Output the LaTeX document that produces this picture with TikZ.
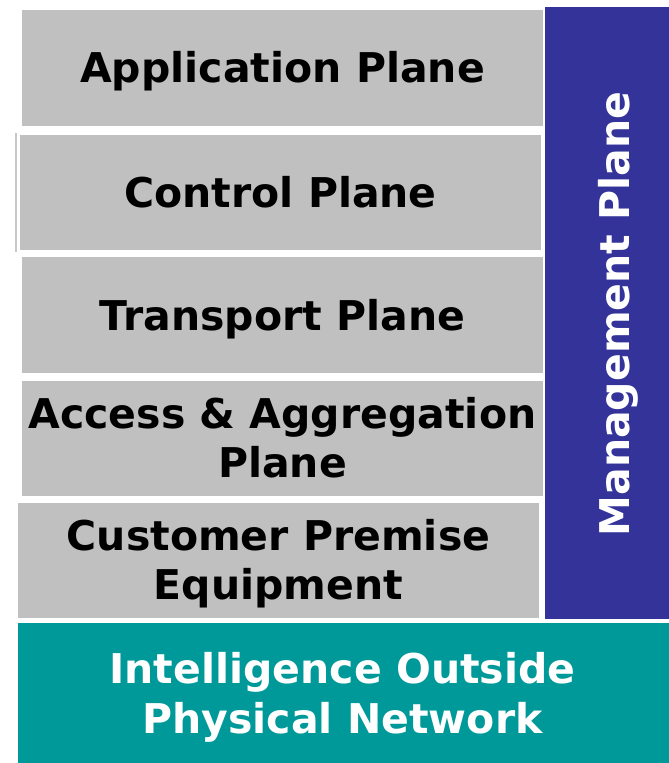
\documentclass[tikz,border=0pt]{standalone}
\usepackage{fontspec}
\setmainfont{DejaVu Sans}
\definecolor{planegray}{HTML}{C0C0C0}
\definecolor{mgmtblue}{HTML}{333399}
\definecolor{intelteal}{HTML}{009999}
\definecolor{edgegray}{HTML}{C8C8C8}
\begin{document}
\begin{tikzpicture}[x=1pt,y=-1pt,
  planebox/.style={fill=planegray, draw=none, inner sep=0pt, outer sep=0pt,
    minimum width=521pt},
  planetext/.style={inner sep=0pt, align=center, text=black,
    font=\fontsize{41}{49}\selectfont\bfseries},
  mgmtbox/.style={fill=mgmtblue, draw=none, inner sep=0pt, outer sep=0pt,
    minimum width=124pt, minimum height=612pt},
  mgmttext/.style={text=white, rotate=90, inner sep=0pt,
    font=\fontsize{41}{49}\selectfont\bfseries},
  intelbox/.style={fill=intelteal, draw=none, inner sep=0pt, outer sep=0pt,
    minimum width=651pt, minimum height=140pt},
  inteltext/.style={inner sep=0pt, align=center, text=white,
    font=\fontsize{41}{50}\selectfont\bfseries}]
\useasboundingbox (0,0) rectangle (669,763);
\node[planebox, minimum height=116pt] (app) at (282.5,68) {};
\node[planetext] (applabel) at ([yshift=-3pt]app.center) {Application Plane};
\node[planebox, minimum height=115pt] (ctrl) at (280.5,192.5) {};
\node[planetext] (ctrllabel) at (ctrl.center) {Control Plane};
\node[planebox, minimum height=116pt] (trans) at (282.5,315) {};
\node[planetext] (translabel) at ([yshift=-4pt]trans.center) {Transport Plane};
\node[planebox, minimum height=115pt] (access) at (282.5,438.5) {};
\node[planetext] (accesslabel) at ([yshift=1pt]access.center) {Access \& Aggregation\\Plane};
\node[planebox, minimum height=115pt] (cust) at (278.5,560.5) {};
\node[planetext] (custlabel) at ([yshift=-3pt]cust.center) {Customer Premise\\Equipment};
\node[mgmtbox] (mgmt) at (607,313) {};
\node[mgmttext] (mgmtlabel) at ([xshift=11pt,yshift=-1pt]mgmt.center) {Management Plane};
\node[intelbox] (intel) at (343.5,693) {};
\node[inteltext] (intellabel) at ([xshift=-1pt,yshift=-4pt]intel.center) {Intelligence Outside\\Physical Network};
\coordinate (edgetop) at (16,133);
\coordinate (edgebot) at (16,252);
\draw[edgegray, line width=1.5pt] (edgetop) -- (edgebot);
\end{tikzpicture}
\end{document}
